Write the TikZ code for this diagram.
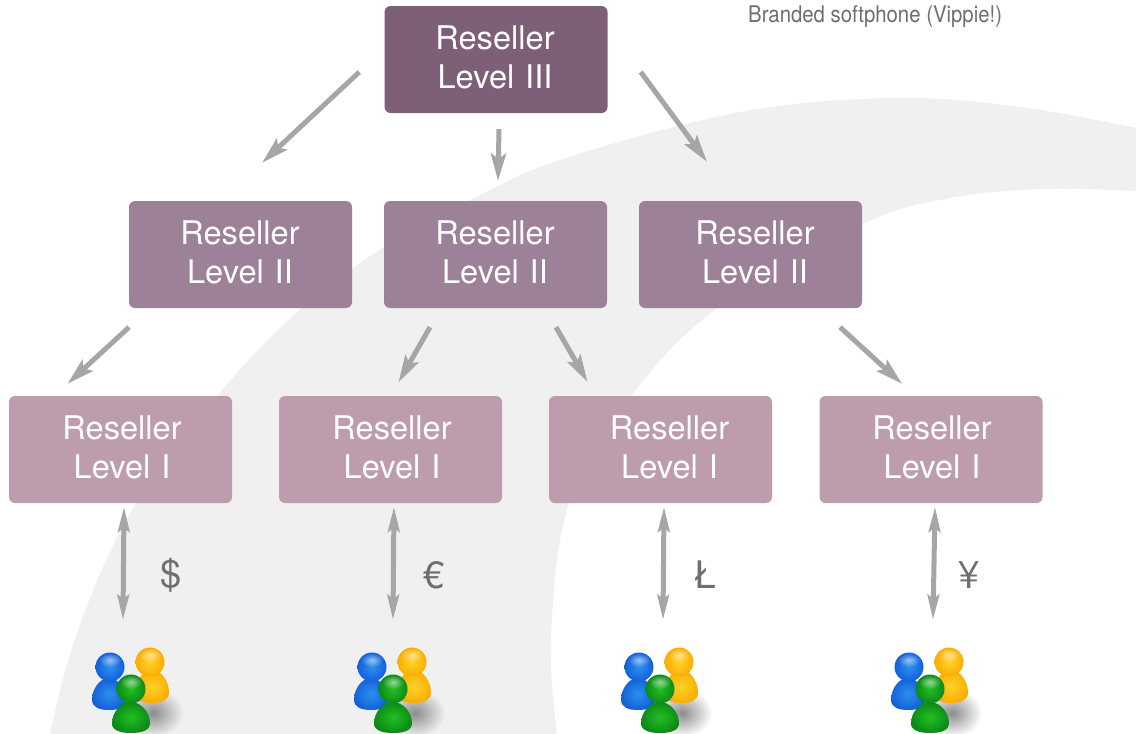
\documentclass[tikz,border=0pt]{standalone}
\usepackage{fontspec}
\setmainfont{TeX Gyre Heros}
\newfontfamily\narrowfont[FakeStretch=0.885]{TeX Gyre Heros}
\usetikzlibrary{arrows.meta,fadings}
\tikzfading[name=softout, inner color=transparent!0, outer color=transparent!100]
\definecolor{bgarc}{HTML}{F0F0F0}
\definecolor{lthree}{HTML}{7D6078}
\definecolor{ltwo}{HTML}{9C8199}
\definecolor{lone}{HTML}{BD9DAD}
\definecolor{arrowgray}{HTML}{A6A6A6}
\definecolor{labelgray}{HTML}{6F6F6F}
\definecolor{bluein}{HTML}{2A90F0}
\definecolor{blueout}{HTML}{1560D8}
\definecolor{yelin}{HTML}{FFD22A}
\definecolor{yelout}{HTML}{F9AE00}
\definecolor{grnin}{HTML}{22C022}
\definecolor{grnout}{HTML}{0C8A18}
\newcommand{\boxlabel}[2]{\hspace*{#1}Reseller\\\hspace*{#1}Level #2\rule[-4pt]{0pt}{4pt}}
\newcommand{\bellbody}[6]{% cx, top, half width, height, inner, outer
  \shade[shift={(#1,#2)},xscale=#3,yscale=#4,inner color=#5,outer color=#6]
    (0,0) .. controls (.55,0) and (1,.35) .. (1,.68) .. controls (1,.92) and (.55,1) .. (0,1)
    .. controls (-.55,1) and (-1,.92) .. (-1,.68) .. controls (-1,.35) and (-.55,0) .. (0,0) -- cycle;}
\newcommand{\glossyhead}[4]{% cx, cy, inner, outer
  \shade[inner color=#3,outer color=#4] (#1,#2) circle[radius=14.5pt];
  \fill[white,opacity=.55,path fading=softout] (#1,#2-7) ellipse[x radius=11pt,y radius=7pt];}
\tikzset{
  resbox/.style={rounded corners=6pt,minimum width=223pt,minimum height=107pt,inner sep=0pt,
    text width=223pt,align=center,text=white,font=\fontsize{32.6}{39}\selectfont},
  arr/.style={draw=arrowgray,line width=5pt,-{Stealth[length=27pt,width=15pt,inset=5pt]}},
  biarr/.style={draw=arrowgray,line width=5pt,{Stealth[length=25pt,width=11.5pt,inset=4pt]}-{Stealth[length=25pt,width=11.5pt,inset=4pt]}},
  cur/.style={text=labelgray,font=\fontsize{38}{40}\selectfont,inner sep=0pt},
  people/.pic={
    \fill[black!45,path fading=softout] (22,24) ellipse[x radius=30pt,y radius=24pt];
    \bellbody{21}{-19}{17}{33}{yelin}{yelout}
    \glossyhead{19}{-27}{yelin}{yelout}
    \bellbody{-22}{-11}{17}{32}{bluein}{blueout}
    \glossyhead{-21}{-22}{bluein}{blueout}
    \bellbody{0}{13}{19}{31}{grnin}{grnout}
    \glossyhead{0}{0}{grnin}{grnout}
    \coordinate (-top) at (-8,-69);
  }
}
\begin{document}
\begin{tikzpicture}[x=1pt,y=-1pt]
\useasboundingbox (0,0) rectangle (1136,734);
\clip (0,0) rectangle (1136,734);
\fill[white] (0,0) rectangle (1136,734);
\fill[bgarc] plot[smooth,tension=.6] coordinates {(50,734)(78,630)(133,508)(218,395)(296,313)(375,253)(471,200)(560,160)(740,112)(897,98)(1020,107)(1136,128)}
  -- (1136,191) -- plot[smooth,tension=.6] coordinates {(1136,191)(1042,189)(950,198)(863,224)(719,307)(635,391)(570,500)(551,634)(557,734)} -- cycle;
\node[text=labelgray,font=\narrowfont\fontsize{23}{26}\selectfont,inner sep=0pt,anchor=base west] (brand) at (748,22) {Branded softphone (Vippie!)};
\node[resbox,fill=lthree] (L3) at (496,59.5) {\boxlabel{-2pt}{III}};
\node[resbox,fill=ltwo] (L2a) at (240.5,254.5) {\boxlabel{-1pt}{II}};
\node[resbox,fill=ltwo] (L2b) at (495.5,254.5) {\boxlabel{-1pt}{II}};
\node[resbox,fill=ltwo] (L2c) at (750.5,254.5) {\boxlabel{9pt}{II}};
\node[resbox,fill=lone] (L1a) at (120.5,449.5) {\boxlabel{3pt}{I}};
\node[resbox,fill=lone] (L1b) at (390.5,449.5) {\boxlabel{3pt}{I}};
\node[resbox,fill=lone] (L1c) at (660.5,449.5) {\boxlabel{18pt}{I}};
\node[resbox,fill=lone] (L1d) at (931,449.5) {\boxlabel{2pt}{I}};
\draw[arr] ([shift={(-25,12.5)}]L3.west) -- ([shift={(21.5,-38)}]L2a.north);
\draw[arr] ([shift={(3,16)}]L3.south) -- ([shift={(2.5,-20)}]L2b.north);
\draw[arr] ([shift={(33,12.5)}]L3.east) -- ([shift={(-43.5,-39)}]L2c.north);
\draw[arr] ([shift={(-111.5,19)}]L2a.south) -- ([shift={(-53,-12)}]L1a.north);
\draw[arr] ([shift={(-65.5,19)}]L2b.south) -- ([shift={(8,-13.5)}]L1b.north);
\draw[arr] ([shift={(60.5,19)}]L2b.south) -- ([shift={(-73,-14)}]L1c.north);
\draw[arr] ([shift={(89.5,19)}]L2c.south) -- ([shift={(-29,-12)}]L1d.north);
\pic (u1) at (131,689) {people};
\pic (u2) at (393,689) {people};
\pic (u3) at (660,689) {people};
\pic (u4) at (930,689) {people};
\draw[biarr] ([shift={(3.5,3.5)}]L1a.south) -- (u1-top);
\draw[biarr] ([shift={(3.5,3.5)}]L1b.south) -- ([xshift=8pt]u2-top);
\draw[biarr] ([shift={(3.5,3.5)}]L1c.south) -- ([xshift=11pt]u3-top);
\draw[biarr] ([shift={(4,3.5)}]L1d.south) -- ([xshift=11pt]u4-top);
\node[cur] (c1) at (171,575) {\$};
\node[cur] (c2) at (434,575) {€};
\node[cur] (c3) at (705,575) {Ł};
\node[cur] (c4) at (969,575) {¥};
\end{tikzpicture}
\end{document}
